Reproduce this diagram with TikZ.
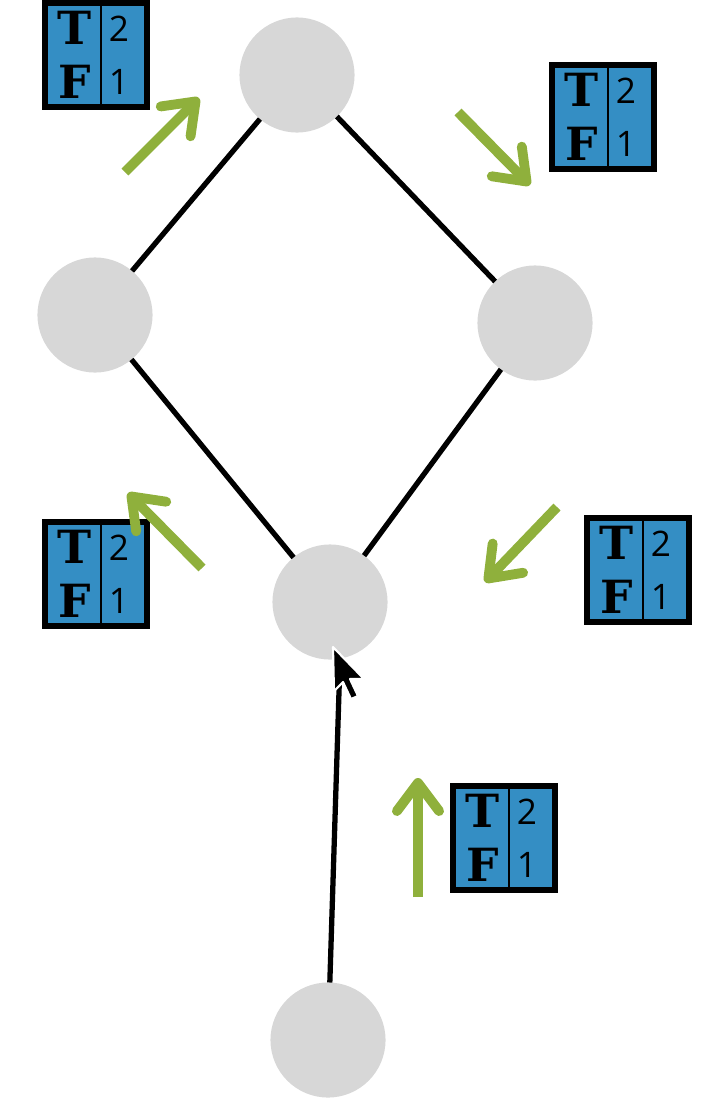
\documentclass[tikz,border=0pt]{standalone}
\usepackage{fontspec}
\setmainfont{Open Sans}
\newfontfamily\tffont{DejaVu Serif}
\usetikzlibrary{arrows.meta,calc}
\definecolor{nodegray}{RGB}{215,215,215}
\definecolor{tabblue}{RGB}{52,142,196}
\definecolor{arrgreen}{RGB}{143,176,60}
\tikzset{
  vert/.style={circle, fill=nodegray, minimum size=1.15cm, inner sep=0pt, outer sep=0pt},
  edge/.style={line width=1.5pt, black},
  tabbox/.style={draw=black, line width=1.45pt, fill=tabblue, minimum width=1.02cm, minimum height=1.04cm, inner sep=0pt, outer sep=0pt},
  divline/.style={line width=0.7pt, black},
  letter/.style={font=\tffont\bfseries\fontsize{13}{13}\selectfont, inner sep=0pt},
  digit/.style={font=\fontsize{10}{10}\selectfont, inner sep=0pt},
  garrow/.style={arrgreen, line width=2.8pt, -{Straight Barb[length=8pt,width=12pt,round]}},
}
\newcommand{\tftab}[3]{%
  \node[tabbox] (#1) at (#2,#3) {};
  \draw[divline] ($(#1.north)+(5,0)$) -- ($(#1.south)+(5,0)$);
  \node[letter] (#1T) at ($(#1)+(-21,-27)$) {T};
  \node[letter] (#1F) at ($(#1)+(-21,27)$) {F};
  \node[digit] (#1d2) at ($(#1)+(23,-26)$) {2};
  \node[digit] (#1d1) at ($(#1)+(23,27)$) {1};
}
\begin{document}
\begin{tikzpicture}[x=0.01cm, y=-0.01cm]
\useasboundingbox (0,0) rectangle (712,1112);
% vertices
\node[vert] (top) at (297,75) {};
\node[vert] (left) at (95,315) {};
\node[vert] (right) at (535,323) {};
\node[vert] (mid) at (330,602) {};
\node[vert] (bot) at (328,1040) {};
\coordinate (lineend) at (340,660);
% edges
\draw[edge] (top) -- (left);
\draw[edge] (top) -- (right);
\draw[edge] (left) -- (mid);
\draw[edge] (right) -- (mid);
\draw[edge] (bot) -- (lineend);
% tables
\tftab{tabA}{96}{55}
\tftab{tabB}{603}{117}
\tftab{tabC}{96}{574}
\tftab{tabD}{638}{570}
\tftab{tabE}{504}{838}
% green arrows
\coordinate (a1s) at (125,172); \coordinate (a1e) at (199,98);
\coordinate (a2s) at (458,112); \coordinate (a2e) at (530,185);
\coordinate (a3s) at (202,568); \coordinate (a3e) at (128,493);
\coordinate (a4s) at (557,507); \coordinate (a4e) at (485,582);
\coordinate (a5s) at (418,897); \coordinate (a5e) at (418,778);
\draw[garrow] (a1s) -- (a1e);
\draw[garrow] (a2s) -- (a2e);
\draw[garrow] (a3s) -- (a3e);
\draw[garrow] (a4s) -- (a4e);
\draw[garrow] (a5s) -- (a5e);
% mouse cursor
\coordinate (cursortip) at (333,647);
\begin{scope}[shift={(cursortip)}]
\filldraw[fill=black, draw=white, line width=0.6pt, line join=round]
  (0,0) -- (1,44) -- (10,35) -- (18,52) -- (25,49) -- (17,32) -- (31,32) -- cycle;
\end{scope}
\end{tikzpicture}
\end{document}
